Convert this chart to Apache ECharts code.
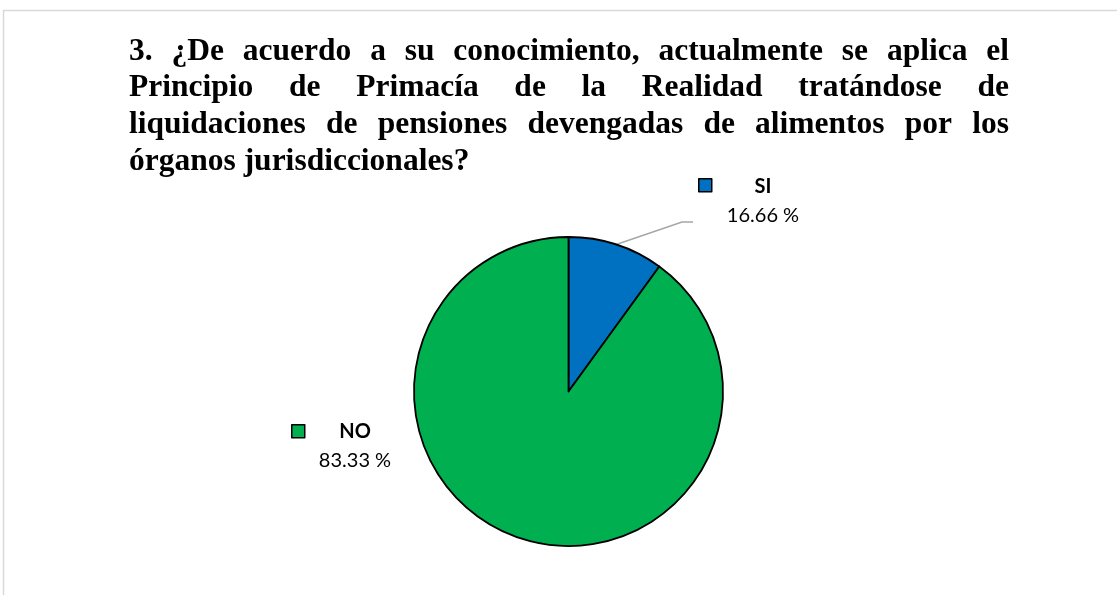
<!DOCTYPE html>
<html>
<head>
<meta charset="utf-8">
<script src="https://cdn.jsdelivr.net/npm/echarts@6/dist/echarts.min.js"></script>
<style>
  html, body { margin: 0; padding: 0; background: #fff; }
  #chart { width: 1117px; height: 595px; }
</style>
</head>
<body>
<div id="chart"></div>
<script>
// datos
const categories = ['SI', 'NO']
const shares = [10, 90]            // tamaño de cada sector tal como se ve
const valueLabels = ['16.66 %', '83.33 %']
const colors = ['#0070C0', '#00B050']
const titleLines = [
  '3. ¿De acuerdo a su conocimiento, actualmente se aplica el',
  'Principio de Primacía de la Realidad tratándose de',
  'liquidaciones de pensiones devengadas de alimentos por los',
  'órganos jurisdiccionales?'
]

const chart = echarts.init(document.getElementById('chart'))

// título justificado, palabra por palabra
const titleFont = 'bold 31.5px "Liberation Serif"'
const titleLeft = 129
const titleRight = 1009
const baselines = [62, 98.5, 135, 172]
const ctx = document.createElement('canvas').getContext('2d')
ctx.font = titleFont

const titleWords = []
titleLines.forEach((line, li) => {
  const words = line.split(' ')
  const widths = words.map(w => ctx.measureText(w).width)
  const total = widths.reduce((a, b) => a + b, 0)
  const last = li === titleLines.length - 1
  const gap = last ? ctx.measureText(' ').width : (titleRight - titleLeft - total) / (words.length - 1)
  let x = titleLeft
  words.forEach((w, wi) => {
    titleWords.push({
      type: 'text',
      x: x,
      y: baselines[li] - 10.5,
      silent: true,
      style: { text: w, font: titleFont, fill: '#000', verticalAlign: 'middle' }
    })
    x += widths[wi] + gap
  })
})

const labelPos = [[763, 172.5], [355, 417]]

chart.setOption({
  animation: false,
  backgroundColor: '#fff',
  graphic: [
    {
      type: 'rect',
      shape: { x: 3.5, y: 10.5, width: 1300, height: 800 },
      style: { fill: 'none', stroke: '#d9d9d9', lineWidth: 1.5 },
      silent: true
    },
    ...titleWords
  ],
  legend: [
    { data: ['SI'], left: 698, top: 178 },
    { data: ['NO'], left: 291, top: 424 }
  ].map(l => ({
    ...l,
    padding: 0,
    icon: 'rect',
    itemWidth: 13,
    itemHeight: 13,
    selectedMode: false,
    formatter: () => '',
    itemStyle: { borderColor: '#000', borderWidth: 1.5 }
  })),
  series: [
    {
      type: 'pie',
      center: [568.5, 391.5],
      radius: 154.5,
      startAngle: 90,
      clockwise: true,
      data: categories.map((c, i) => ({
        name: c,
        value: shares[i],
        itemStyle: { color: colors[i] },
        labelLine: { show: i === 0 }
      })),
      itemStyle: { borderColor: '#000', borderWidth: 1.8 },
      emphasis: { disabled: true },
      label: {
        position: 'outside',
        align: 'center',
        formatter: p => '{b|' + p.name + '}\n{v|' + valueLabels[p.dataIndex] + '}',
        rich: {
          b: { fontFamily: 'Lato', fontWeight: 'bold', fontSize: 20, lineHeight: 29, color: '#000', align: 'center' },
          v: { fontFamily: 'Lato', fontSize: 20, lineHeight: 29, color: '#000', align: 'center' }
        }
      },
      labelLine: {
        lineStyle: { color: '#a6a6a6', width: 1.5 }
      },
      labelLayout: params => {
        const i = params.dataIndex
        const out = { x: labelPos[i][0], y: labelPos[i][1], align: 'center', verticalAlign: 'top' }
        if (i === 0 && params.labelLinePoints) {
          out.labelLinePoints = [params.labelLinePoints[0], [682, 222], [693, 222]]
        }
        return out
      }
    }
  ]
})
</script>
</body>
</html>
